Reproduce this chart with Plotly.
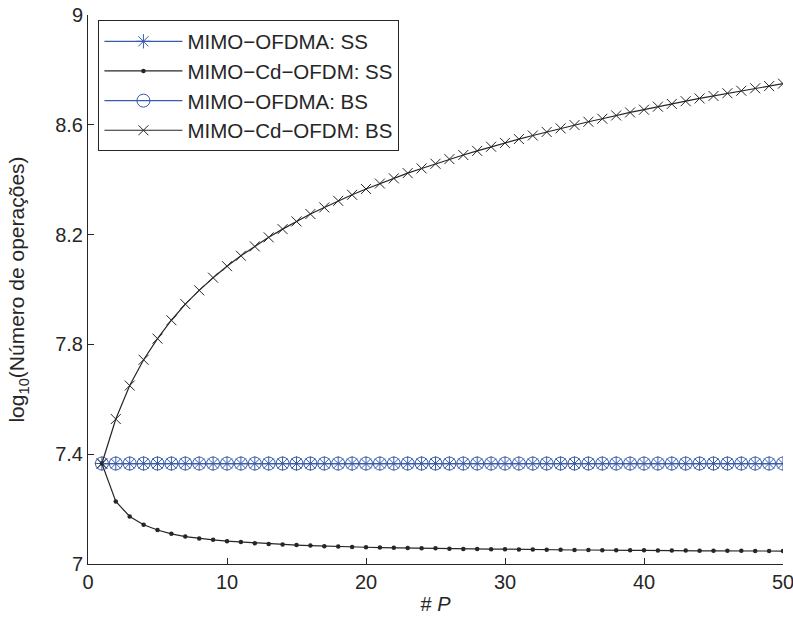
import plotly.graph_objects as go

P = [1, 2, 3, 4, 5, 6, 7, 8, 9, 10,
     11, 12, 13, 14, 15, 16, 17, 18, 19, 20,
     21, 22, 23, 24, 25, 26, 27, 28, 29, 30,
     31, 32, 33, 34, 35, 36, 37, 38, 39, 40,
     41, 42, 43, 44, 45, 46, 47, 48, 49, 50]

ofdma_ss = [7.366, 7.366, 7.366, 7.366, 7.366, 7.366, 7.366, 7.366, 7.366, 7.366,
            7.366, 7.366, 7.366, 7.366, 7.366, 7.366, 7.366, 7.366, 7.366, 7.366,
            7.366, 7.366, 7.366, 7.366, 7.366, 7.366, 7.366, 7.366, 7.366, 7.366,
            7.366, 7.366, 7.366, 7.366, 7.366, 7.366, 7.366, 7.366, 7.366, 7.366,
            7.366, 7.366, 7.366, 7.366, 7.366, 7.366, 7.366, 7.366, 7.366, 7.366]

cd_ss = [7.366, 7.228, 7.173, 7.143, 7.124, 7.110, 7.100, 7.093, 7.088, 7.083,
         7.080, 7.076, 7.073, 7.071, 7.069, 7.067, 7.065, 7.064, 7.062, 7.061,
         7.060, 7.059, 7.058, 7.057, 7.057, 7.056, 7.055, 7.055, 7.054, 7.054,
         7.053, 7.053, 7.052, 7.052, 7.051, 7.051, 7.050, 7.050, 7.050, 7.050,
         7.049, 7.049, 7.049, 7.048, 7.048, 7.048, 7.048, 7.047, 7.047, 7.047]

ofdma_bs = [7.366, 7.366, 7.366, 7.366, 7.366, 7.366, 7.366, 7.366, 7.366, 7.366,
            7.366, 7.366, 7.366, 7.366, 7.366, 7.366, 7.366, 7.366, 7.366, 7.366,
            7.366, 7.366, 7.366, 7.366, 7.366, 7.366, 7.366, 7.366, 7.366, 7.366,
            7.366, 7.366, 7.366, 7.366, 7.366, 7.366, 7.366, 7.366, 7.366, 7.366,
            7.366, 7.366, 7.366, 7.366, 7.366, 7.366, 7.366, 7.366, 7.366, 7.366]

cd_bs = [7.366, 7.528, 7.650, 7.744, 7.821, 7.888, 7.947, 7.997, 8.043, 8.085,
         8.123, 8.157, 8.190, 8.220, 8.248, 8.275, 8.299, 8.323, 8.345, 8.366,
         8.386, 8.405, 8.424, 8.441, 8.458, 8.475, 8.490, 8.505, 8.520, 8.534,
         8.548, 8.561, 8.574, 8.587, 8.599, 8.611, 8.622, 8.634, 8.645, 8.655,
         8.666, 8.676, 8.686, 8.696, 8.705, 8.715, 8.724, 8.733, 8.741, 8.750]

x_ticks = [0, 10, 20, 30, 40, 50]
y_ticks = [7, 7.4, 7.8, 8.2, 8.6, 9]
y_tick_text = ["7", "7.4", "7.8", "8.2", "8.6", "9"]

BLUE = "#3a5bab"
BLACK = "#262626"
FONT = "Liberation Sans, Arial, sans-serif"

fig = go.Figure()
fig.add_trace(go.Scatter(
    x=P, y=ofdma_ss, mode="lines+markers", name="MIMO\u2212OFDMA: SS",
    line=dict(color=BLUE, width=1.3),
    marker=dict(symbol="asterisk-open", size=12, color=BLUE, line=dict(color=BLUE, width=1))))
fig.add_trace(go.Scatter(
    x=P, y=cd_ss, mode="lines+markers", name="MIMO\u2212Cd\u2212OFDM: SS",
    line=dict(color=BLACK, width=1.2),
    marker=dict(symbol="circle", size=4.5, color=BLACK)))
fig.add_trace(go.Scatter(
    x=P, y=ofdma_bs, mode="lines+markers", name="MIMO\u2212OFDMA: BS",
    line=dict(color=BLUE, width=1.3),
    marker=dict(symbol="circle-open", size=13, color=BLUE, line=dict(color=BLUE, width=1))))
fig.add_trace(go.Scatter(
    x=P, y=cd_bs, mode="lines+markers", name="MIMO\u2212Cd\u2212OFDM: BS",
    line=dict(color=BLACK, width=1.2),
    marker=dict(symbol="x-thin-open", size=10, color=BLACK, line=dict(color=BLACK, width=1))))

fig.update_layout(
    width=793, height=618,
    margin=dict(l=88, r=10, t=15, b=54),
    paper_bgcolor="white", plot_bgcolor="white",
    font=dict(family=FONT, size=20, color=BLACK),
    showlegend=True,
    legend=dict(
        x=0.015, y=0.99, xanchor="left", yanchor="top",
        bgcolor="white", bordercolor=BLACK, borderwidth=1,
        font=dict(family=FONT, size=20.5, color=BLACK),
        tracegroupgap=0, itemwidth=78,
    ),
)
fig.update_xaxes(
    range=[0, 50], tickvals=x_ticks, ticks="inside", ticklen=6, tickwidth=1,
    tickcolor=BLACK, showline=True, linecolor=BLACK, linewidth=1, mirror=False,
    showgrid=False, zeroline=False, ticklabeloverflow="allow", automargin=False,
    tickfont=dict(family=FONT, size=20, color=BLACK),
    title=dict(text="# <i>P</i>", font=dict(family=FONT, size=20, color=BLACK), standoff=4),
)
fig.update_yaxes(
    range=[7, 9], tickvals=y_ticks, ticktext=y_tick_text, ticks="inside", ticklen=6, tickwidth=1,
    tickcolor=BLACK, showline=True, linecolor=BLACK, linewidth=1, mirror=False,
    showgrid=False, zeroline=False, ticklabeloverflow="allow", automargin=False,
    tickfont=dict(family=FONT, size=20, color=BLACK),
    title=dict(text="log<sub>10</sub>(Número de operações)", font=dict(family=FONT, size=21, color=BLACK), standoff=24),
)

fig.write_html("out.html")
